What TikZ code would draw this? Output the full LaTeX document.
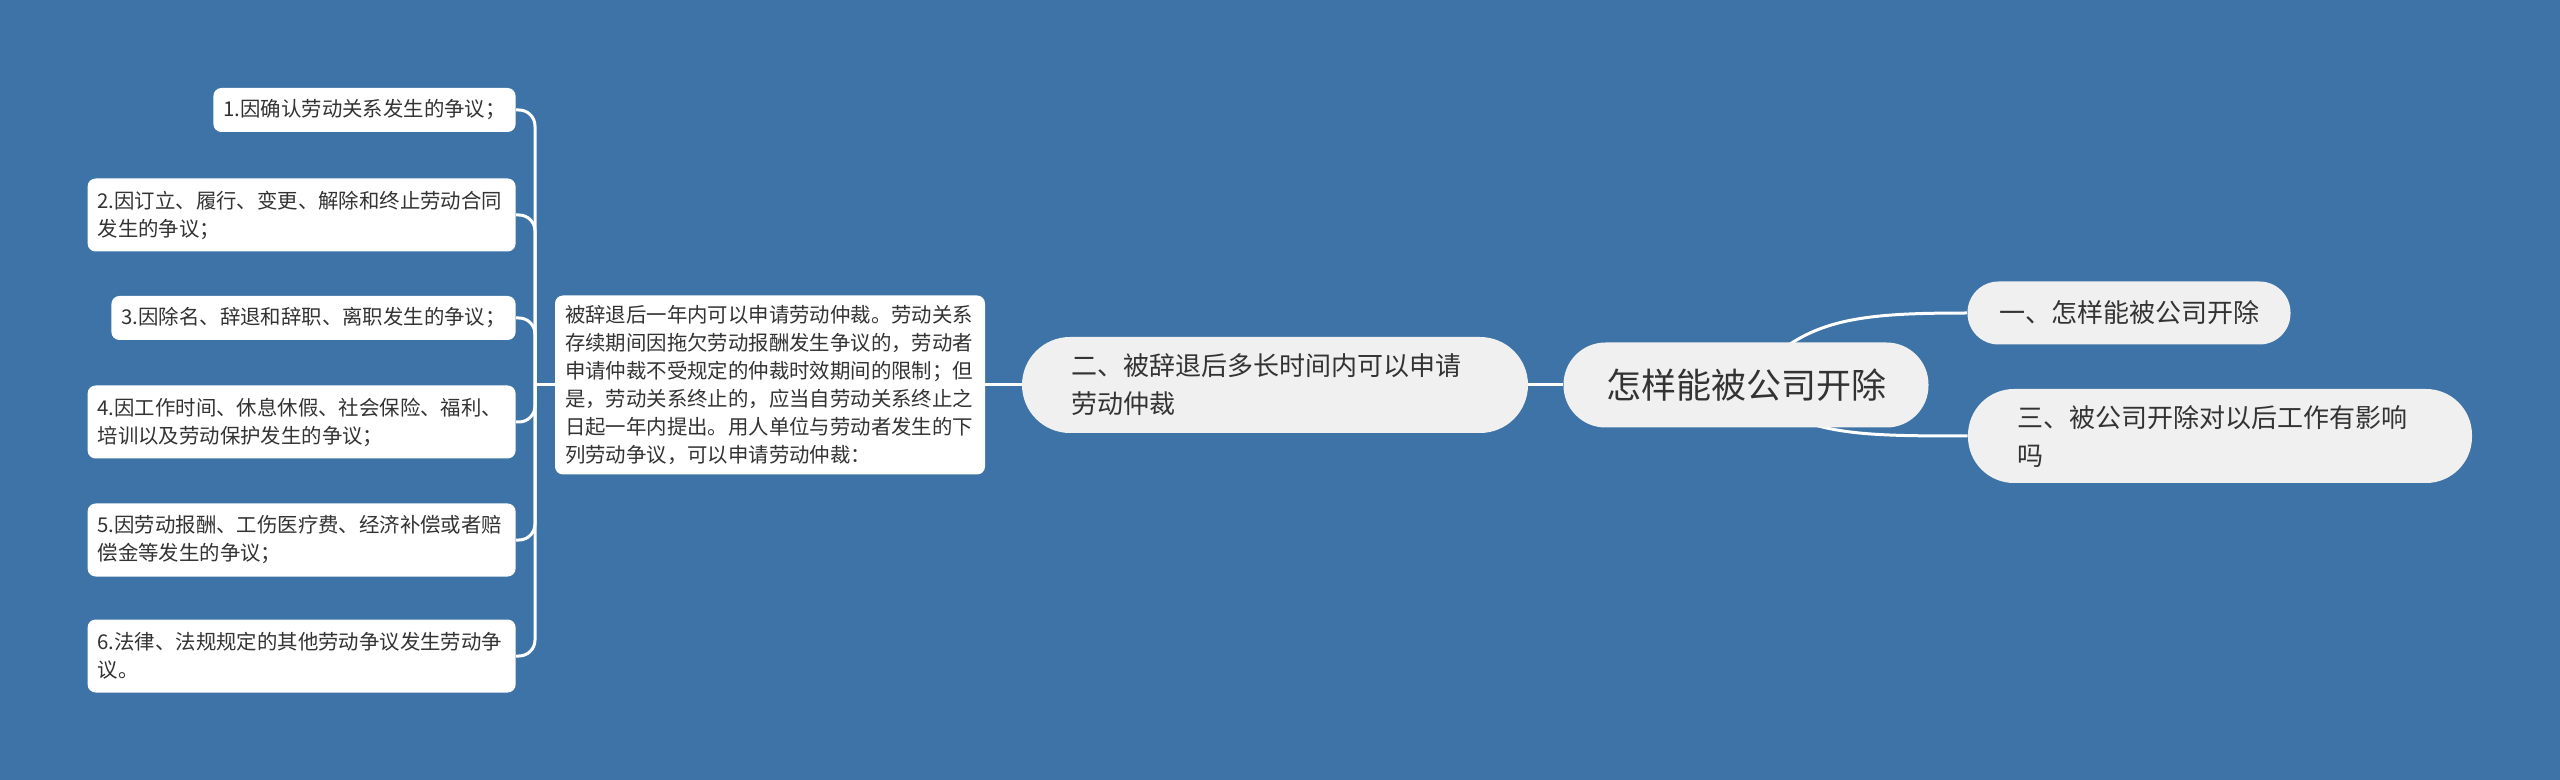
\documentclass[tikz,border=0pt]{standalone}
\usepackage{fontspec}
\setmainfont{Noto Sans CJK SC}
\usetikzlibrary{backgrounds}
\definecolor{bgblue}{HTML}{3D73A6}
\definecolor{pillgray}{HTML}{F0F0F0}
\definecolor{inkgray}{HTML}{333333}

\begin{document}
\begin{tikzpicture}[x=0.5pt, y=-0.5pt]
            \tikzstyle{leaf}=[fill=white, rounded corners=4pt, text=inkgray, inner xsep=5pt, inner ysep=3pt, align=left, anchor=east, font=\fontsize{10.2}{14}\selectfont]
            \tikzstyle{pill}=[fill=pillgray, text=inkgray, align=left, font=\fontsize{13}{19}\selectfont]
            \tikzstyle{link}=[draw=white, line width=1.5pt]

            % nodes
            \node[pill, rounded corners=21pt, minimum width=182.5pt, minimum height=42.5pt, font=\fontsize{17.5}{21}\selectfont] (root) at (1746,385) {怎样能被公司开除};
            \node[pill, rounded corners=15.5pt, minimum width=161.5pt, minimum height=31.5pt, inner xsep=15pt] (n1) at (2129,313) {一、怎样能被公司开除};
            \node[pill, rounded corners=23pt, text width=203pt, inner xsep=24.5pt, minimum height=47pt] (n3) at (2220,436) {三、被公司开除对以后工作有影响\\吗};
            \node[pill, rounded corners=24pt, text width=204pt, inner xsep=24.5pt, minimum height=48pt] (sec) at (1275,385) {二、被辞退后多长时间内可以申请\\劳动仲裁};
            \node[leaf, anchor=center, text width=205pt, minimum height=89.5pt] (txt) at (770,385) {被辞退后一年内可以申请劳动仲裁。劳动关系\\存续期间因拖欠劳动报酬发生争议的，劳动者\\申请仲裁不受规定的仲裁时效期间的限制；但\\是，劳动关系终止的，应当自劳动关系终止之\\日起一年内提出。用人单位与劳动者发生的下\\列劳动争议，可以申请劳动仲裁：};

            \node[leaf, minimum height=22pt] (a1) at (516,110) {1.因确认劳动关系发生的争议；};
            \node[leaf, minimum height=36.5pt, text width=204pt] (a2) at (516,215) {2.因订立、履行、变更、解除和终止劳动合同\\发生的争议；};
            \node[leaf, minimum height=22pt] (a3) at (516,318) {3.因除名、辞退和辞职、离职发生的争议；};
            \node[leaf, minimum height=36.5pt, text width=204pt] (a4) at (516,422) {4.因工作时间、休息休假、社会保险、福利、\\培训以及劳动保护发生的争议；};
            \node[leaf, minimum height=36.5pt, text width=204pt] (a5) at (516,540) {5.因劳动报酬、工伤医疗费、经济补偿或者赔\\偿金等发生的争议；};
            \node[leaf, minimum height=36.5pt, text width=204pt] (a6) at (516,656) {6.法律、法规规定的其他劳动争议发生劳动争\\议。};
            \coordinate (hub) at (535,385);

            % edges
            \begin{pgfonlayer}{background}
              \fill[bgblue] (0,0) rectangle (2560,780);
              \draw[link] (sec.east) -- (root.west);
              \draw[link] (txt.east) -- (sec.west);
              \draw[link] (root.center) .. controls +(54,-65) and +(-118,0) .. (n1.west);
              \draw[link] (root.center) .. controls +(54,50) and +(-118,0) .. (n3.west);
              \draw[link] (txt.west) -- (hub);
              \foreach \leaf in {a1,a2,a3,a4,a5,a6}
                \draw[link, rounded corners=8pt] (hub) |- (\leaf.east);
            \end{pgfonlayer}
\end{tikzpicture}
\end{document}
